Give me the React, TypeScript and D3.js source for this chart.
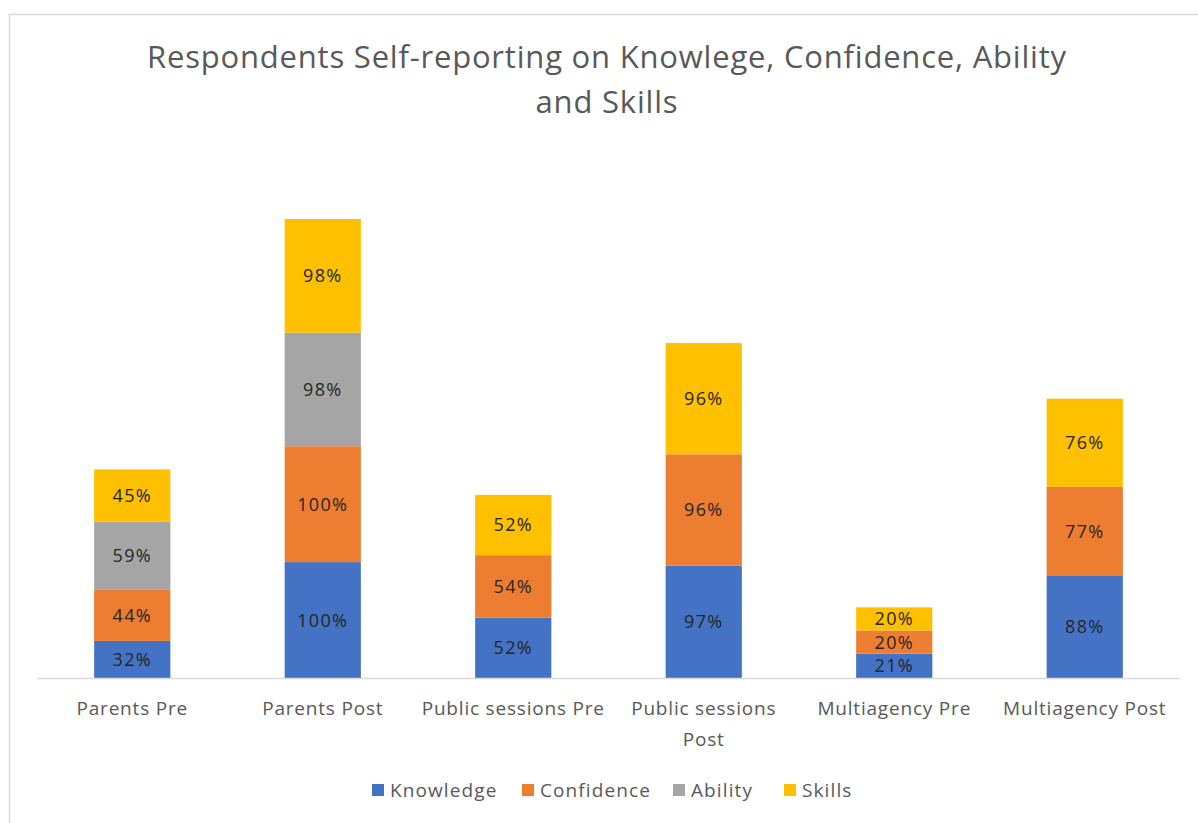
import React from "react";
import * as d3 from "d3";

const categories = ["Parents Pre", "Parents Post", "Public sessions Pre", "Public sessions Post", "Multiagency Pre", "Multiagency Post"];
const seriesNames = ["Knowledge", "Confidence", "Ability", "Skills"];
const knowledge = [32, 100, 52, 97, 21, 88];
const confidence = [44, 100, 54, 96, 20, 77];
const ability = [59, 98, 0, 0, 0, 0];
const skills = [45, 98, 52, 96, 20, 76];
const colors = ["#4472C4", "#ED7D31", "#A5A5A5", "#FFC000"];
const titleLines = ["Respondents Self-reporting on Knowlege, Confidence, Ability", "and Skills"];

const W = 1198, H = 823;
const FONT = "'Open Sans', 'Noto Sans', sans-serif";

export default function App() {
  const values = [knowledge, confidence, ability, skills];
  const rows = categories.map((c, i) => {
    const r: any = { cat: c };
    seriesNames.forEach((s, j) => (r[s] = values[j][i]));
    return r;
  });
  const stacked = d3.stack().keys(seriesNames)(rows);
  const x = d3.scaleBand().domain(categories).range([37, 1180]).padding(0);
  const y = d3.scaleLinear().domain([0, 400]).range([678, 678 - 400 * 1.159]);
  const bw = x.bandwidth() * 0.4;

  const labelLines = (c: string) => (c === "Public sessions Post" ? ["Public sessions", "Post"] : [c]);
  const legendX = [372, 522, 673, 784];

  return (
    <svg width={W} height={H} style={{ position: "absolute", left: 0, top: 0 }} fontFamily={FONT}>
      <rect x={0} y={0} width={W} height={H} fill="#fff" />
      <rect x={9.5} y={14.5} width={1200} height={820} fill="#fff" stroke="#d9d9d9" strokeWidth={1.5} />
      {titleLines.map((t, i) => (
        <text key={i} x={607} y={68 + i * 45} textAnchor="middle" fontSize={31} letterSpacing={0.8} fill="#595959">{t}</text>
      ))}
      {stacked.map((layer, j) => (
        <g key={layer.key} fill={colors[j]}>
          {layer.map((d, i) => {
            const v = d[1] - d[0];
            if (v <= 0) return null;
            const cx = (x(categories[i]) as number) + x.bandwidth() / 2;
            return (
              <g key={i}>
                <rect x={cx - bw / 2} y={y(d[1])} width={bw} height={y(d[0]) - y(d[1])} />
                <text x={cx} y={(y(d[0]) + y(d[1])) / 2} dy="0.36em" textAnchor="middle" fontSize={18} letterSpacing={1.3} fill="#262626">{v}%</text>
              </g>
            );
          })}
        </g>
      ))}
      <line x1={37} x2={1180} y1={y(0) + 0.5} y2={y(0) + 0.5} stroke="#d9d9d9" strokeWidth={1.5} />
      {categories.map((c) => {
        const cx = (x(c) as number) + x.bandwidth() / 2;
        return labelLines(c).map((l, k) => (
          <text key={c + k} x={cx} y={715 + k * 31} textAnchor="middle" fontSize={19} letterSpacing={0.8} fill="#595959">{l}</text>
        ));
      })}
      {seriesNames.map((s, j) => (
        <g key={s}>
          <rect x={legendX[j]} y={784} width={12} height={12} fill={colors[j]} />
          <text x={legendX[j] + 18} y={797} fontSize={19} letterSpacing={1.1} fill="#595959">{s}</text>
        </g>
      ))}
    </svg>
  );
}
